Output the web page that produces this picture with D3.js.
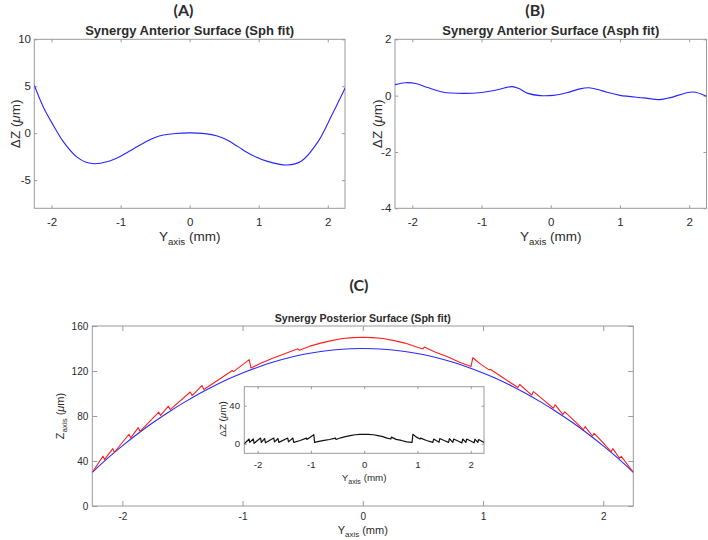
<!DOCTYPE html>
<html><head><meta charset="utf-8">
<script src="https://cdn.jsdelivr.net/npm/d3@7"></script>
<style>
body{margin:0;background:#fff}
svg{display:block}
text{font-family:"Liberation Sans",Arial,Helvetica,sans-serif;fill:#2b2b2b}
</style>
</head><body>
<svg id="c" width="708" height="540"></svg>
<script>
// ---------- data ----------
const xTicks = [-2, -1, 0, 1, 2];
const aYTicks = [-5, 0, 5, 10];
const bYTicks = [-4, -2, 0, 2];
const cYTicks = [0, 40, 80, 120, 160];
const insetYTicks = [0, 40];

// (A) anterior surface, spherical fit residual
const aX = [-2.25,-2.12,-1.975,-1.83,-1.64,-1.5,-1.37,-1.2,-1.0,-0.8,-0.62,-0.5,-0.38,-0.2,0,0.22,0.4,0.55,0.7,0.9,1.14,1.41,1.62,1.86,2.06,2.25];
const aY = [5.1,2.8,0.85,-0.9,-2.5,-3.1,-3.25,-3.05,-2.45,-1.6,-0.85,-0.45,-0.2,-0.03,0.03,-0.05,-0.3,-0.75,-1.43,-2.32,-3.03,-3.39,-2.96,-0.9,1.94,4.8];

// (B) anterior surface, aspherical fit residual
const bX = [-2.25,-2.1,-1.95,-1.79,-1.55,-1.26,-1.0,-0.8,-0.66,-0.56,-0.46,-0.33,-0.15,0.04,0.23,0.42,0.55,0.68,0.81,1.0,1.34,1.58,1.73,2.05,2.25];
const bY = [0.39,0.46,0.43,0.3,0.12,0.08,0.11,0.19,0.28,0.32,0.25,0.08,0.0,0.01,0.1,0.24,0.28,0.22,0.12,0.01,-0.08,-0.14,-0.07,0.13,-0.02];

// (C) posterior surface: spherical fit (blue)
const cBlueX = [-2.25,-2.1,-2.0,-1.85,-1.75,-1.6,-1.5,-1.35,-1.25,-1.1,-1.0,-0.85,-0.75,-0.6,-0.5,-0.35,-0.25,-0.1,0,0.1,0.25,0.35,0.5,0.6,0.75,0.85,1.0,1.1,1.25,1.35,1.5,1.6,1.75,1.85,2.0,2.1,2.25];
const cBlueZ = [30,44.5,53.5,66,73.8,84.5,91.2,100.5,106.1,113.8,118.3,124.3,127.8,132.2,134.6,137.3,138.6,139.8,140,139.8,138.6,137.3,134.6,132.2,127.8,124.3,118.3,113.8,106.1,100.5,91.2,84.5,73.8,66,53.5,44.5,30];

// (C) posterior surface: measured profile (red)
const cRedX = [-2.25,-2.16,-2.148,-2.08,-2.066,-1.945,-1.93,-1.868,-1.853,-1.697,-1.682,-1.617,-1.602,-1.435,-1.42,-1.338,-1.322,-1.2,-1.085,-1.075,-0.945,-0.93,-0.85,-0.75,-0.65,-0.54,-0.528,-0.44,-0.35,-0.26,-0.17,-0.08,0,
  0.08,0.17,0.26,0.35,0.43,0.5,0.512,0.6,0.7,0.8,0.9,0.915,0.98,1.05,1.06,1.17,1.29,1.305,1.405,1.42,1.5,1.585,1.6,1.665,1.68,1.76,1.835,1.85,1.91,1.925,2.0,2.065,2.08,2.135,2.15,2.25];
const cRedZ = [30,44.3,41.2,51.0,47.8,63.8,60.6,69.7,66.4,83.4,80.5,88.7,85.7,101.3,98.2,107.1,103.5,112.2,120.4,119.4,130.1,122.7,126.8,131.3,135.3,139.7,138.4,142.1,144.8,147.0,148.9,149.7,150,
  149.7,148.9,147.0,144.8,142.0,139.6,141.3,136.8,132.9,128.1,123.9,131.8,126.1,121.0,121.6,113.8,105.3,108.0,98.6,101.7,94.6,86.9,89.9,81.3,83.7,75.7,67.8,70.6,62.2,64.5,56.1,48.3,51.0,42.4,44.1,30];

// (C) inset: difference between measured profile and fit
const insetX = cRedX;
const insetDZ = [0,5,1.5,5,0.5,6,1.5,5.5,1,6,2,5.5,1.5,6,2,6,1.5,3.5,6,4.5,9.5,1.5,2.5,3.5,4.5,6,4.5,6.3,7.5,8.5,9.5,9.8,10,
  9.8,9.5,8.5,7.5,6,5,7,4.6,3.5,2,1.5,10,7,5,6,3.5,1.5,5,1.5,5.5,3.5,1.5,5.5,1.5,5,3,1,5,1.5,5,3,1,5,1.5,4.5,1.5];

// ---------- drawing ----------
const svg = d3.select("#c");
let clipId = 0;

function panel(cfg) {
  const g = svg.append("g");
  const x = d3.scaleLinear().domain([-2.25, 2.25]).range([cfg.l, cfg.r]);
  const y = d3.scaleLinear().domain(cfg.yDom).range([cfg.b, cfg.t]);
  g.append("rect").attr("x", cfg.l).attr("y", cfg.t).attr("width", cfg.r - cfg.l).attr("height", cfg.b - cfg.t)
    .attr("fill", "#fff").attr("stroke", "#9a9a9a").attr("stroke-width", 1);
  const id = "clip" + (clipId++);
  g.append("clipPath").attr("id", id).append("rect").attr("x", cfg.l).attr("y", cfg.t)
    .attr("width", cfg.r - cfg.l).attr("height", cfg.b - cfg.t);

  const fmt = d => String(d);
  const style = sel => {
    sel.select(".domain").remove();
    sel.selectAll(".tick line").attr("stroke", "#9a9a9a");
    sel.selectAll(".tick text").style("font-size", cfg.tickFs + "px").attr("fill", "#2b2b2b")
      .style("font-family", '"Liberation Sans",Arial,sans-serif');
  };
  g.append("g").attr("transform", `translate(0,${cfg.b})`)
    .call(d3.axisBottom(x).tickValues(xTicks).tickSize(-cfg.tick).tickPadding(cfg.xPad).tickFormat(fmt)).call(style);
  g.append("g").attr("transform", `translate(0,${cfg.t})`)
    .call(d3.axisTop(x).tickValues(xTicks).tickSize(-cfg.tick).tickFormat("")).call(style);
  g.append("g").attr("transform", `translate(${cfg.l},0)`)
    .call(d3.axisLeft(y).tickValues(cfg.yT).tickSize(-cfg.tick).tickPadding(cfg.yPad).tickFormat(fmt)).call(style);
  g.append("g").attr("transform", `translate(${cfg.r},0)`)
    .call(d3.axisRight(y).tickValues(cfg.yT).tickSize(-cfg.tick).tickFormat("")).call(style);

  const lines = g.append("g").attr("clip-path", `url(#${id})`);
  cfg.series.forEach(s => {
    const pts = s.x.map((v, i) => [v, s.y[i]]);
    lines.append("path").datum(pts)
      .attr("fill", "none").attr("stroke", s.color).attr("stroke-width", s.w || 1.1)
      .attr("stroke-linejoin", "round")
      .attr("d", d3.line().x(d => x(d[0])).y(d => y(d[1])).curve(s.curve || d3.curveLinear));
  });

  // x label  Y_axis (mm)
  const xl = g.append("text").attr("x", (cfg.l + cfg.r) / 2).attr("y", cfg.xLabY)
    .attr("text-anchor", "middle").style("font-size", cfg.labFs + "px");
  xl.append("tspan").text("Y");
  xl.append("tspan").attr("dy", cfg.labFs * 0.3).style("font-size", (cfg.labFs * 0.72) + "px").text("axis");
  xl.append("tspan").attr("dy", -cfg.labFs * 0.3).text(" (mm)");

  // y label
  const cy = cfg.yLabCy || (cfg.t + cfg.b) / 2;
  const yl = g.append("text").attr("transform", `translate(${cfg.yLabX},${cy}) rotate(-90)`)
    .attr("text-anchor", "middle").attr("dy", "0.35em").style("font-size", cfg.labFs + "px");
  if (cfg.yLabSub) {
    yl.append("tspan").text("Z");
    yl.append("tspan").attr("dy", cfg.labFs * 0.3).style("font-size", (cfg.labFs * 0.72) + "px").text("axis");
    yl.append("tspan").attr("dy", -cfg.labFs * 0.3).text(" (");
  } else {
    yl.append("tspan").text("ΔZ (");
  }
  yl.append("tspan").style("font-style", "italic").text("μ");
  yl.append("tspan").text("m)");

  if (cfg.title) {
    g.append("text").attr("x", cfg.titleX || (cfg.l + cfg.r) / 2).attr("y", cfg.titleY)
      .attr("text-anchor", "middle").style("font-size", cfg.titleFs + "px").style("font-weight", "bold")
      .attr("fill", "#000").text(cfg.title);
  }
  return g;
}

function letter(txt, x, y) {
  svg.append("text").attr("x", x).attr("y", y).attr("text-anchor", "middle")
    .style("font-family", 'Lato,"Open Sans",sans-serif').style("font-weight", "bold").style("font-size", "16px")
    .attr("fill", "#000").text(txt);
}

letter("(A)", 183.5, 15.5);
letter("(B)", 535, 15.5);
letter("(C)", 359, 290.5);

const smooth = d3.curveCatmullRom.alpha(0.5);

panel({
  l: 34.3, r: 345, t: 39.3, b: 208.3, yDom: [-8, 10], yT: aYTicks, tick: 3,
  tickFs: 11.5, labFs: 13.5, xPad: 10, yPad: 3.3, xLabY: 240.5, yLabX: 15,
  title: "Synergy Anterior Surface (Sph fit)", titleY: 34.5, titleFs: 13,
  series: [{ x: aX, y: aY, color: "#2626ff", curve: smooth }]
});

panel({
  l: 395, r: 706.5, t: 39.3, b: 208.3, yDom: [-4, 2], yT: bYTicks, tick: 3,
  tickFs: 11.5, labFs: 13.5, xPad: 10, yPad: 3.7, xLabY: 240.5, yLabX: 377,
  title: "Synergy Anterior Surface (Asph fit)", titleY: 34.5, titleFs: 13,
  series: [{ x: bX, y: bY, color: "#2626ff", curve: smooth }]
});

panel({
  l: 92.3, r: 633.3, t: 326, b: 506, yDom: [0, 160], yT: cYTicks, tick: 5,
  tickFs: 10, labFs: 11, xPad: 7, yPad: 4, xLabY: 534, yLabX: 60, yLabSub: true,
  title: "Synergy Posterior Surface (Sph fit)", titleY: 321.7, titleFs: 10.6,
  series: [
    { x: cBlueX, y: cBlueZ, color: "#2b2bff", curve: smooth },
    { x: cRedX, y: cRedZ, color: "#ff1f1f" }
  ]
});

panel({
  l: 244.3, r: 484, t: 386.7, b: 453.3, yDom: [-10, 60], yT: insetYTicks, tick: 2.5,
  tickFs: 9.6, labFs: 9.8, xPad: 7.4, yPad: 4.3, xLabY: 481, yLabX: 223, yLabCy: 419,
  series: [{ x: insetX, y: insetDZ, color: "#111", w: 1.2 }]
});
</script>
</body></html>
